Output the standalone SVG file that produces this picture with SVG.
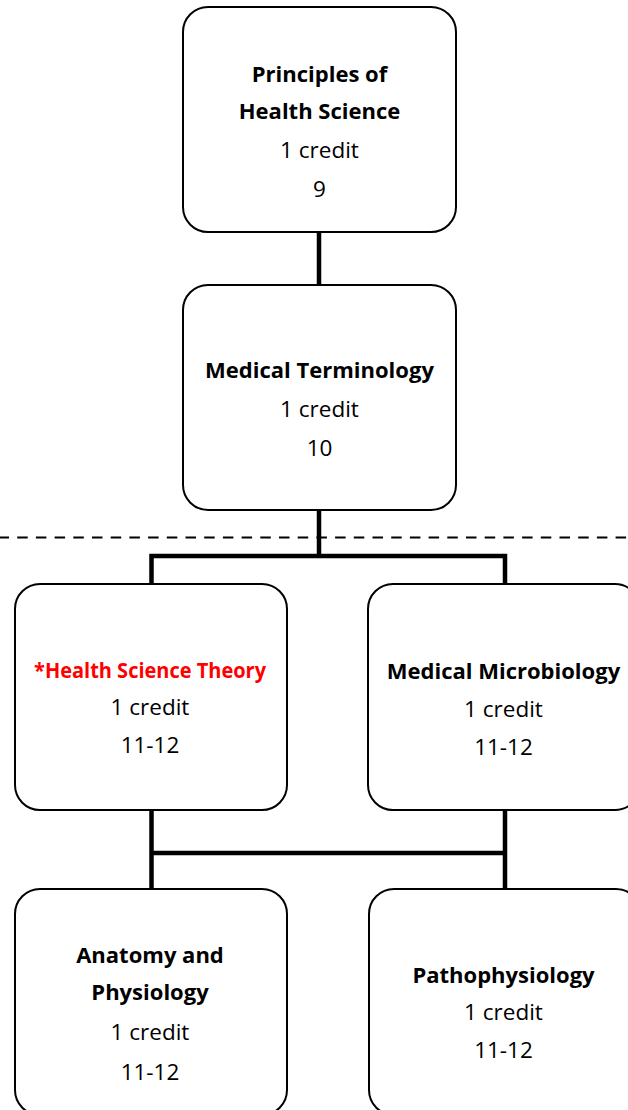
<svg xmlns="http://www.w3.org/2000/svg" width="628" height="1110" viewBox="0 0 628 1110">
<style>
.box{fill:#fff;stroke:#000;stroke-width:2}
.conn{fill:none;stroke:#000;stroke-width:4.5}
.dash{fill:none;stroke:#000;stroke-width:2.2;stroke-dasharray:10.5 8.2}
text{font-family:"Open Sans",Lato,sans-serif;font-size:22px;text-anchor:middle;fill:#000}
.r{font-size:22.5px}
.b{font-weight:bold}
.red{fill:#ff0000}
</style>
<rect width="628" height="1110" fill="#fff"/>
<g id="connectors">
<line class="dash" x1="-1.5" y1="537.5" x2="628" y2="537.5"/>
<line class="conn" x1="319" y1="232" x2="319" y2="285"/>
<line class="conn" x1="319" y1="510" x2="319" y2="556"/>
<polyline class="conn" points="151.5,585 151.5,556 505,556 505,585"/>
<line class="conn" x1="151.5" y1="810" x2="151.5" y2="889"/>
<line class="conn" x1="505" y1="810" x2="505" y2="889"/>
<line class="conn" x1="151.5" y1="853" x2="505" y2="853"/>
</g>
<g id="node-principles">
<rect class="box" x="183" y="7" width="273" height="225" rx="25"/>
<text class="b" x="319.5" y="82">Principles of</text>
<text class="b" x="319.5" y="119">Health Science</text>
<text class="r" x="319.5" y="158">1 credit</text>
<text class="r" x="319.5" y="197">9</text>
</g>
<g id="node-terminology">
<rect class="box" x="183" y="285" width="273" height="225" rx="25"/>
<text class="b" x="319.5" y="378">Medical Terminology</text>
<text class="r" x="319.5" y="417">1 credit</text>
<text class="r" x="319.5" y="456">10</text>
</g>
<g id="node-theory">
<rect class="box" x="15" y="584" width="272" height="226" rx="25"/>
<text class="b red" x="150" y="678" textLength="232" lengthAdjust="spacingAndGlyphs">*Health Science Theory</text>
<text class="r" x="150" y="715">1 credit</text>
<text class="r" x="150" y="753">11-12</text>
</g>
<g id="node-microbiology">
<rect class="box" x="368" y="584" width="272" height="226" rx="25"/>
<text class="b" x="503.5" y="679">Medical Microbiology</text>
<text class="r" x="503.5" y="717">1 credit</text>
<text class="r" x="503.5" y="755">11-12</text>
</g>
<g id="node-anatomy">
<rect class="box" x="15" y="889" width="272" height="226" rx="25"/>
<text class="b" x="150" y="963">Anatomy and</text>
<text class="b" x="150" y="1000">Physiology</text>
<text class="r" x="150" y="1040">1 credit</text>
<text class="r" x="150" y="1080">11-12</text>
</g>
<g id="node-pathophysiology">
<rect class="box" x="369" y="889" width="272" height="226" rx="25"/>
<text class="b" x="503.5" y="983">Pathophysiology</text>
<text class="r" x="503.5" y="1020">1 credit</text>
<text class="r" x="503.5" y="1058">11-12</text>
</g>
</svg>
